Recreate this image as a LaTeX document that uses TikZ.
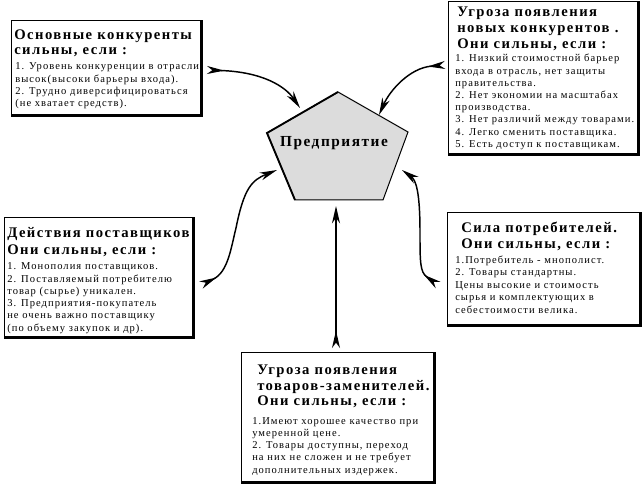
\documentclass[tikz,border=0pt]{standalone}
\usepackage{fontspec}
\setmainfont{Liberation Serif}[LetterSpace=10]
\usetikzlibrary{arrows.meta,fit}
\definecolor{pentfill}{HTML}{DCDCDC}
\tikzset{
  box/.style={draw, line width=0.75pt, fill=white, inner sep=0pt},
  shadeline/.style={line width=1.6pt},
  ttl/.style={font=\bfseries\fontsize{11}{12}\selectfont, inner sep=0pt, anchor=base west},
  txt/.style={font=\fontsize{7.9}{9}\selectfont, inner sep=0pt, anchor=base west},
  conn/.style={line width=1.1pt,
    {Stealth[reversed,length=13pt,width=6pt,inset=4pt]}-{Stealth[length=13pt,width=6pt,inset=4pt]}},
}
\begin{document}
\begin{tikzpicture}[x=0.75pt,y=-0.75pt]
\useasboundingbox (0,0) rectangle (644,485);
\fill[white] (0,0) rectangle (644,485);

% ---------- boxes ----------
\node[box, fit={(11,21) (201,115)}] (b1) {};
\draw[shadeline] (b1.north east) -- (b1.south east) -- (b1.south west);
\node[box, fit={(448,2) (638,154)}] (b2) {};
\draw[shadeline] (b2.north east) -- (b2.south east) -- (b2.south west);
\node[box, fit={(4,218) (193,337)}] (b3) {};
\draw[shadeline] (b3.north east) -- (b3.south east) -- (b3.south west);
\node[box, fit={(447,213) (640,325)}] (b4) {};
\draw[shadeline] (b4.north east) -- (b4.south east) -- (b4.south west);
\node[box, fit={(241,353) (434,482)}] (b5) {};
\draw[shadeline] (b5.north east) -- (b5.south east) -- (b5.south west);

% ---------- box 1 ----------
\node[ttl] (h1a) at (14,40) {Основные конкуренты};
\node[ttl] (h1b) at (14,55) {сильны, если :};
\foreach \s [count=\i from 0] in {{1. Уровень конкуренции в отрасли},{высок(высоки барьеры входа).},{2. Трудно диверсифицироваться},{(не хватает  средств).}}
  \node[txt] (t1-\i) at (15,{70+12.3*\i}) {\s};

% ---------- box 2 ----------
\node[ttl] (h2a) at (457,17) {Угроза появления};
\node[ttl] (h2b) at (457,33) {новых конкурентов .};
\node[ttl] (h2c) at (457,49) {Они сильны, если :};
\foreach \s [count=\i from 0] in {{1. Низкий стоимостной барьер},{входа в отрасль, нет защиты},{правительства.},{2. Нет экономии на масштабах},{производства.},{3. Нет различий между товарами.},{4. Легко сменить поставщика.},{5. Есть доступ к поставщикам.}}
  \node[txt] (t2-\i) at (455,{62+12.2*\i}) {\s};

% ---------- box 3 ----------
\node[ttl] (h3a) at (7,238) {Действия поставщиков};
\node[ttl] (h3b) at (7,255) {Они сильны, если :};
\foreach \s [count=\i from 0] in {{1. Монополия поставщиков.},{2. Поставляемый потребителю},{товар (сырье) уникален.},{3. Предприятия-покупатель},{не очень важно поставщику},{(по объему закупок и др).}}
  \node[txt] (t3-\i) at (7,{270+12.2*\i}) {\s};

% ---------- box 4 ----------
\node[ttl] (h4a) at (461,233) {Сила потребителей.};
\node[ttl] (h4b) at (461,249) {Они сильны, если :};
\foreach \s [count=\i from 0] in {{1.Потребитель - мнополист.},{2. Товары стандартны.},{Цены высокие и стоимость},{сырья и комплектующих в},{себестоимости велика.}}
  \node[txt] (t4-\i) at (455,{263+12.6*\i}) {\s};

% ---------- box 5 ----------
\node[ttl] (h5a) at (257,374) {Угроза появления};
\node[ttl] (h5b) at (257,390) {товаров-заменителей.};
\node[ttl] (h5c) at (257,406) {Они сильны, если :};
\foreach \s [count=\i from 0] in {{1.Имеют хорошее качество при},{умеренной цене.},{2. Товары доступны, переход},{на них не сложен и не требует},{дополнительных издержек.}}
  \node[txt] (t5-\i) at (252,{424+12.3*\i}) {\s};

% ---------- pentagon ----------
\draw[fill=pentfill, line width=0.75pt] (338,92) -- (408,132) -- (383,200) -- (295,200) -- (267,133) -- cycle;
\draw[line width=1.4pt] (338,92) -- (267,133) -- (295,200);
\node[font=\bfseries\fontsize{11.5}{12}\selectfont, inner sep=0pt] (ent) at (334,143) {Предприятие};

% ---------- connectors ----------
\coordinate (a1s) at (207,70);  \coordinate (a1e) at (300,108);
\coordinate (a2s) at (445,65);  \coordinate (a2e) at (379,115);
\coordinate (a3s) at (201,285); \coordinate (a3m) at (236,228); \coordinate (a3e) at (277,170);
\coordinate (a4s) at (438,285); \coordinate (a4m) at (420,232); \coordinate (a4e) at (402,170);
\coordinate (a5s) at (336,348); \coordinate (a5e) at (336,206);

\draw[conn] (a1s) .. controls (262,72) and (285,86) .. (a1e);
\draw[conn] (a2s) .. controls (410,68) and (390,90) .. (a2e);
\draw[conn] (a3s) .. controls (228,272) and (231,248) .. (a3m) .. controls (244,188) and (252,180) .. (a3e);
\draw[conn] (a4s) .. controls (420,272) and (420,262) .. (a4m) .. controls (420,192) and (416,180) .. (a4e);
\draw[conn] (a5s) -- (a5e);
\end{tikzpicture}
\end{document}
